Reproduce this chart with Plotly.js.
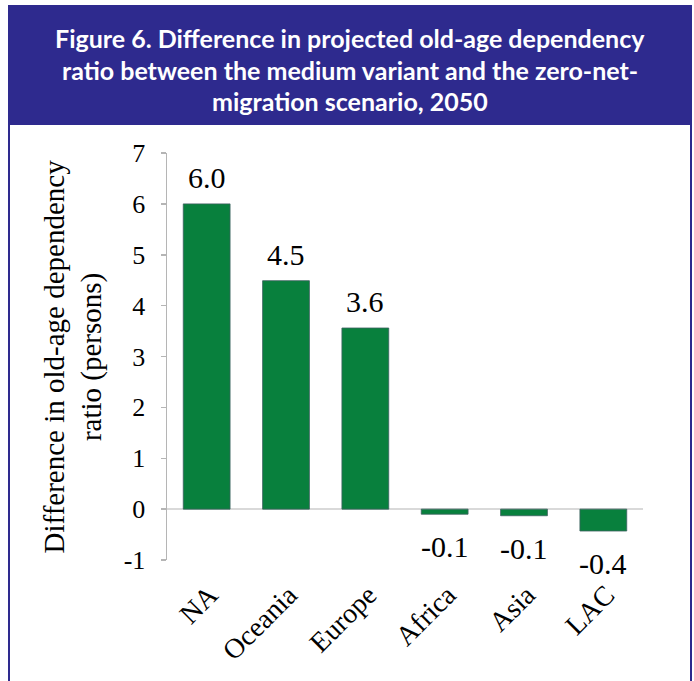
<!DOCTYPE html>
<html>
<head>
<meta charset="utf-8">
<script src="https://cdn.plot.ly/plotly-3.0.1.min.js"></script>
<style>
html,body{margin:0;padding:0;background:#fff;}
#chart{width:694px;height:681px;}
</style>
</head>
<body>
<div id="chart"></div>
<script>
var categories = ["NA", "Oceania", "Europe", "Africa", "Asia", "LAC"];
var values = [6.0, 4.49, 3.56, -0.1, -0.13, -0.43];
var titleLines = [
  "Figure 6. Difference in projected old-age dependency",
  "ratio between the medium variant and the zero-net-",
  "migration scenario, 2050"
];
var yTitleLines = ["Difference in old-age dependency", "ratio (persons)"];
var yTicks = [-1, 0, 1, 2, 3, 4, 5, 6, 7];

var BLUE = "#2E2A8E";
var GREEN = "#08803D";
var SERIF = "Liberation Serif, Times New Roman, serif";

var W = 694, H = 681;
var L = 167, R = 51, T = 153, B = 121;
var pw = W - L - R, ph = H - T - B;
function px2x(p) { return (p - L) / pw; }
function py2y(p) { return 1 - (p - T) / ph; }

var trace = {
  type: "bar",
  x: categories,
  y: values,
  width: 0.59,
  marker: { color: GREEN, line: { color: "#3c6060", width: 0.8 } },
  hoverinfo: "x+y"
};

var annotations = [];
values.forEach(function (v, i) {
  annotations.push({
    x: categories[i], y: v, xref: "x", yref: "y",
    text: v.toFixed(1), showarrow: false,
    yanchor: v >= 0 ? "bottom" : "top",
    yshift: v >= 0 ? 8 : -14,
    font: { family: SERIF, size: 30, color: "#000" }
  });
});
var titleY = [38, 70, 101];
titleLines.forEach(function (t, i) {
  annotations.push({
    xref: "paper", yref: "paper", x: px2x(350), y: py2y(titleY[i]),
    xanchor: "center", yanchor: "middle", text: "<b>" + t + "</b>",
    showarrow: false, font: { family: "Lato, Noto Sans, sans-serif", size: 25, color: "#fff" }
  });
});
annotations.push({
  xref: "paper", yref: "paper", x: px2x(73), y: 0.5,
  xanchor: "center", yanchor: "middle", textangle: -90,
  text: yTitleLines.join("<br>"), showarrow: false,
  font: { family: SERIF, size: 29, color: "#000" }
});

var layout = {
  width: W, height: H,
  margin: { l: L, r: R, t: T, b: B, pad: 0 },
  paper_bgcolor: "#fff", plot_bgcolor: "#fff",
  showlegend: false,
  xaxis: {
    type: "category",
    tickangle: -45,
    showline: false, showgrid: false, zeroline: false, ticks: "",
    ticklabelstandoff: 12,
    ticklabelshift: 3,
    tickfont: { family: SERIF, size: 28, color: "#000" },
    automargin: false
  },
  yaxis: {
    range: [-1, 7],
    tickvals: yTicks,
    ticktext: yTicks.map(String),
    showline: true, linecolor: "#b5b5b5", linewidth: 1.5,
    ticks: "outside", ticklen: 5, tickcolor: "#b5b5b5", tickwidth: 1.5,
    showgrid: false,
    zeroline: true, zerolinecolor: "#d9d9d9", zerolinewidth: 2,
    ticklabelstandoff: 10,
    tickfont: { family: SERIF, size: 26, color: "#000" },
    automargin: false, fixedrange: true
  },
  shapes: [
    { type: "rect", xref: "paper", yref: "paper", layer: "below",
      x0: px2x(9), x1: px2x(691), y0: py2y(700), y1: py2y(124),
      line: { color: BLUE, width: 2 }, fillcolor: "rgba(0,0,0,0)" },
    { type: "rect", xref: "paper", yref: "paper", layer: "below",
      x0: px2x(8), x1: px2x(692), y0: py2y(125), y1: py2y(5),
      line: { width: 0 }, fillcolor: BLUE }
  ],
  annotations: annotations
};

Plotly.newPlot("chart", [trace], layout, { displayModeBar: false, staticPlot: true });
</script>
</body>
</html>
